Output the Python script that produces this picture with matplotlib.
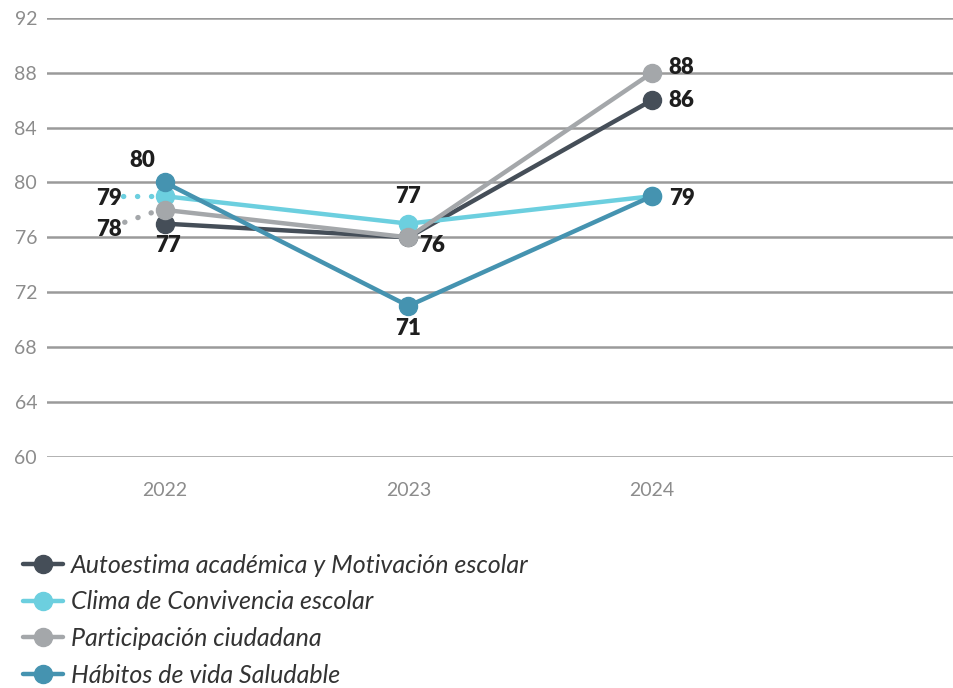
import matplotlib.pyplot as plt
import numpy as np

years = ["2022", "2023", "2024"]
series = ["Autoestima académica y Motivación escolar",
          "Clima de Convivencia escolar",
          "Participación ciudadana",
          "Hábitos de vida Saludable"]
autoestima = [77, 76, 86]
clima = [79, 77, 79]
participacion = [78, 76, 88]
habitos = [80, 71, 79]
colors = ["#454e58", "#6ccfdf", "#a4a7aa", "#4593b0"]
yticks = [60, 64, 68, 72, 76, 80, 84, 88, 92]

plt.rcParams['font.family'] = ['Lato', 'DejaVu Sans']

fig = plt.figure(figsize=(9.54, 6.88), dpi=100)
ax = fig.add_axes([0.049, 0.336, 0.951, 0.638])

x = np.arange(len(years))
for y in yticks:
    ax.axhline(y, color="#9a9a9a", lw=1.8, zorder=0)

all_vals = [autoestima, clima, participacion, habitos]
order = [2, 0, 1, 3]
for i in order:
    ax.plot(x, all_vals[i], color=colors[i], lw=3.2, marker='o', ms=13,
            label=series[i], zorder=3 + i, solid_capstyle='round')

lab = dict(fontsize=16, fontweight='heavy', color='#1e1e1e')
# 2022
ax.annotate(str(habitos[0]), (x[0], habitos[0]), xytext=(-16, 8), textcoords='offset points', ha='center', va='bottom', **lab)
ax.annotate(str(clima[0]), (x[0], clima[0]), xytext=(-31, -2), textcoords='offset points', ha='right', va='center', **lab)
ax.annotate(str(participacion[0]), (x[0], participacion[0]), xytext=(-31, -14), textcoords='offset points', ha='right', va='center', **lab)
ax.annotate(str(autoestima[0]), (x[0], autoestima[0]), xytext=(2, -8), textcoords='offset points', ha='center', va='top', **lab)
dot = dict(ls=(0, (0.05, 2.6)), lw=3.8, dash_capstyle='round', zorder=2)
ax.plot([x[0] - 0.17, x[0] - 0.03], [clima[0], clima[0]], color=colors[1], **dot)
ax.plot([x[0] - 0.165, x[0] - 0.03], [participacion[0] - 0.9, participacion[0] - 0.05],
        color=colors[2], **dot)
# 2023
ax.annotate(str(clima[1]), (x[1], clima[1]), xytext=(0, 12), textcoords='offset points', ha='center', va='bottom', **lab)
ax.annotate(str(participacion[1]), (x[1], participacion[1]), xytext=(8, -6), textcoords='offset points', ha='left', va='center', **lab)
ax.annotate(str(habitos[1]), (x[1], habitos[1]), xytext=(0, -9), textcoords='offset points', ha='center', va='top', **lab)
# 2024
ax.annotate(str(participacion[2]), (x[2], participacion[2]), xytext=(12, 4), textcoords='offset points', ha='left', va='center', **lab)
ax.annotate(str(autoestima[2]), (x[2], autoestima[2]), xytext=(12, 0), textcoords='offset points', ha='left', va='center', **lab)
ax.annotate(str(habitos[2]), (x[2], habitos[2]), xytext=(12, -2), textcoords='offset points', ha='left', va='center', **lab)

ax.set_xlim(-0.485, 3.24)
ax.set_ylim(60, 92)
ax.set_yticks(yticks)
ax.set_xticks(x)
ax.set_xticklabels(years)
ax.tick_params(axis='both', length=0, labelsize=14, labelcolor='#8c8c8c')
ax.tick_params(axis='y', pad=7)
ax.tick_params(axis='x', pad=18)
for s in ax.spines.values():
    s.set_visible(False)

handles, labels = ax.get_legend_handles_labels()
hmap = dict(zip(labels, handles))
leg = fig.legend([hmap[s] for s in series], series, loc='upper left',
                 bbox_to_anchor=(0.0, 0.228), frameon=False, handlelength=1.6,
                 handletextpad=0.35, labelspacing=0.55,
                 prop={'size': 18, 'style': 'italic'})
for t in leg.get_texts():
    t.set_color('#333333')

fig.savefig("out.png", dpi=100)
